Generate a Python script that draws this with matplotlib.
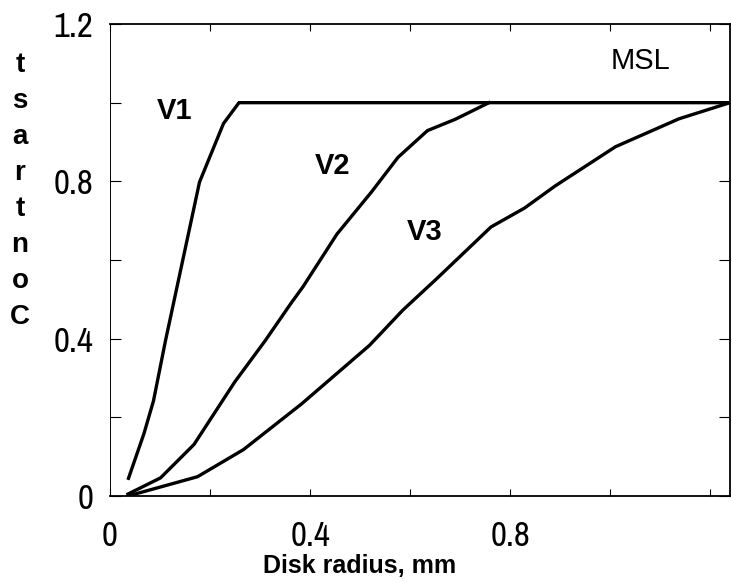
import matplotlib
matplotlib.use("Agg")
import matplotlib.pyplot as plt
from matplotlib import font_manager

# contrast vs disk radius for the three variants; MSL saturates at 1
v1_r = [0.037, 0.068, 0.087, 0.111, 0.179, 0.227, 0.258, 1.24]
v1_c = [0.045, 0.159, 0.242, 0.395, 0.798, 0.947, 1.0, 1.0]

v2_r = [0.036, 0.101, 0.168, 0.249, 0.311, 0.362, 0.386, 0.454, 0.523, 0.576, 0.635, 0.691, 0.758]
v2_c = [0.005, 0.046, 0.131, 0.289, 0.396, 0.490, 0.532, 0.666, 0.773, 0.861, 0.929, 0.958, 1.0]

v3_r = [0.036, 0.175, 0.267, 0.383, 0.519, 0.586, 0.653, 0.762, 0.829, 0.89, 1.011, 1.138, 1.24]
v3_c = [0.0, 0.049, 0.118, 0.234, 0.383, 0.473, 0.552, 0.684, 0.732, 0.788, 0.888, 0.959, 1.0]

labels = ["V1", "V2", "V3"]
label_pos = [(0.13, 0.98), (0.445, 0.84), (0.63, 0.67)]

installed = sorted({f.name for f in font_manager.fontManager.ttflist})
condensed = [n for n in installed if "Narrow" in n or "Condensed" in n]
tick_font = condensed[0] if condensed else "Liberation Sans"
tick_size = 25 if condensed else 20
plt.rcParams['font.family'] = ["Liberation Sans", "DejaVu Sans"]

fig = plt.figure(figsize=(7.32, 5.82), dpi=100)
ax = fig.add_axes([110 / 732, 1 - 496 / 582, 620 / 732, 472 / 582])

for r, c in [(v1_r, v1_c), (v2_r, v2_c), (v3_r, v3_c)]:
    ax.plot(r, c, color="black", lw=2.4, solid_joinstyle="miter")

for txt, (x, y) in zip(labels, label_pos):
    ax.text(x, y, txt, fontsize=21, fontweight="bold", ha="center", va="center")
ax.text(1.06, 1.105, "MSL", fontsize=21, ha="center", va="center")

ax.set_xlim(0, 1.24)
ax.set_ylim(0, 1.2)

ax.set_xticks([0, 0.2, 0.4, 0.6, 0.8, 1.0, 1.2])
ax.set_xticklabels(["0", "", "0.4", "", "0.8", "", ""])
ax.set_yticks([0, 0.2, 0.4, 0.6, 0.8, 1.0, 1.2])
ax.set_yticklabels(["0", "", "0.4", "", "0.8", "", "1.2"])
for lab in ax.get_xticklabels() + ax.get_yticklabels():
    lab.set_fontfamily(tick_font)
    lab.set_fontsize(tick_size)

ax.tick_params(axis="x", direction="in", length=5, width=0.8, pad=17, top=True)
ax.tick_params(axis="y", direction="in", length=8, width=0.8, pad=12, right=True)
for side in ["top", "bottom", "right"]:
    ax.spines[side].set_linewidth(1.3)
ax.spines["left"].set_linewidth(0.7)

ax.set_xlabel("Disk radius, mm", fontsize=18, fontweight="bold")
ax.xaxis.set_label_coords(0.403, -0.122)

# vertical axis title written as stacked upright letters
word = "Contrast"
for i, ch in enumerate(word):
    fig.text(20 / 732, 1 - (317 - 36 * i) / 582, ch, fontsize=20, fontweight="bold",
             ha="center", va="center")

fig.savefig("out.png", dpi=100)
